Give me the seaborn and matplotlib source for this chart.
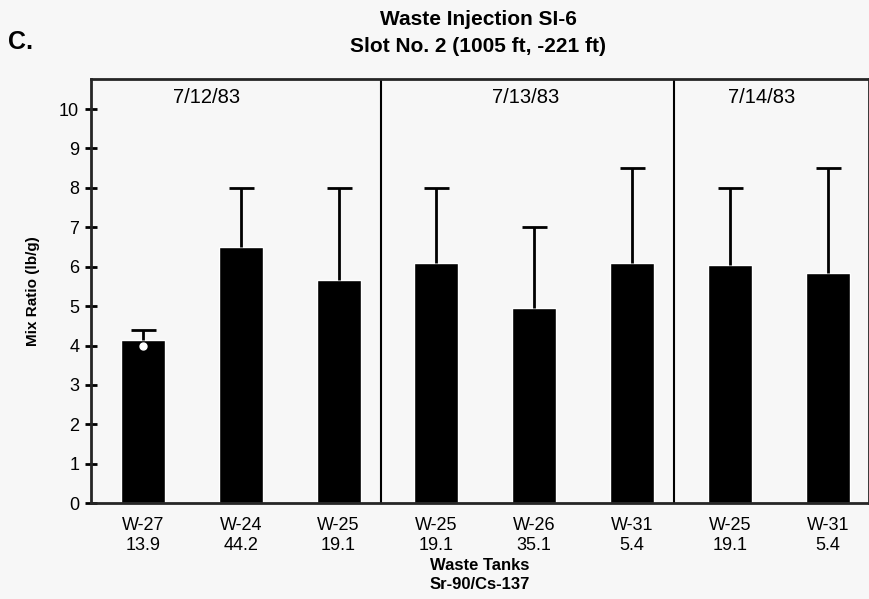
import pandas as pd
import matplotlib.pyplot as plt
import seaborn as sns

# Data
tanks = ['W-27', 'W-24', 'W-25', 'W-25', 'W-26', 'W-31', 'W-25', 'W-31']
sr_cs = ['13.9', '44.2', '19.1', '19.1', '35.1', '5.4', '19.1', '5.4']
mix_ratio = [4.15, 6.5, 5.65, 6.1, 4.95, 6.1, 6.05, 5.85]
upper = [4.4, 8.0, 8.0, 8.0, 7.0, 8.5, 8.0, 8.5]
dates = ['7/12/83', '7/13/83', '7/14/83']
date_groups = [3, 3, 2]
marker_value = 4.0  # open dot on the first bar

df = pd.DataFrame({'pos': range(len(tanks)), 'ratio': mix_ratio})

sns.set_style('ticks')
plt.rcParams['font.family'] = ['Liberation Sans', 'DejaVu Sans']
plt.rcParams['text.color'] = 'black'
plt.rcParams['axes.labelcolor'] = 'black'
plt.rcParams['xtick.color'] = 'black'
plt.rcParams['ytick.color'] = 'black'
bg = '#f7f7f7'

fig = plt.figure(figsize=(8.7, 5.99), dpi=100, facecolor=bg)
ax = fig.add_axes([0.1046, 0.160, 0.894, 0.708])
ax.set_facecolor(bg)

sns.barplot(data=df, x='pos', y='ratio', color='black', width=0.45,
            saturation=1, ax=ax, errorbar=None)

# upper-only error bars
yerr = [[0] * len(tanks), [u - v for u, v in zip(upper, mix_ratio)]]
eb = ax.errorbar(df['pos'], mix_ratio, yerr=yerr, fmt='none', ecolor='black',
                 elinewidth=2, capsize=9, capthick=2)
eb[1][0].set_visible(False)  # hide lower caps
ax.plot([0], [marker_value], 'o', color='white', ms=5, zorder=5)

# date dividers and labels
start = 0
for i, (d, n) in enumerate(zip(dates, date_groups)):
    if i > 0:
        ax.axvline(start - 0.5 - 0.07, color='black', lw=1.5)
    start += n
ax.text(0.65, 10.3, dates[0], ha='center', va='center', fontsize=14.5)
ax.text(3.91, 10.3, dates[1], ha='center', va='center', fontsize=14.5)
ax.text(6.32, 10.3, dates[2], ha='center', va='center', fontsize=14.5)

ax.set_xlim(-0.53, 7.42)
ax.set_ylim(0, 10.76)
ax.set_yticks(range(0, 11))
ax.set_xticks(range(len(tanks)))
ax.set_xticklabels([f'{t}\n{s}' for t, s in zip(tanks, sr_cs)], fontsize=13,
                   linespacing=1.2)
ax.tick_params(axis='y', direction='inout', length=9, width=2, labelsize=13, pad=4)
ax.tick_params(axis='x', length=0, pad=10)
for s in ax.spines.values():
    s.set_linewidth(2)
    s.set_visible(True)

ax.set_xlabel('Waste Tanks\nSr-90/Cs-137', fontsize=12, fontweight='bold',
              labelpad=3, linespacing=1.35)
ax.set_ylabel('Mix Ratio (lb/g)', fontsize=11, fontweight='bold', labelpad=14)

fig.text(0.55, 0.983, 'Waste Injection SI-6\nSlot No. 2 (1005 ft, -221 ft)',
         ha='center', va='top', fontsize=15, fontweight='bold', linespacing=1.5)
fig.text(0.009, 0.95, 'C.', ha='left', va='top', fontsize=18, fontweight='bold')

fig.savefig('out.png', dpi=100, facecolor=bg)
plt.close(fig)
